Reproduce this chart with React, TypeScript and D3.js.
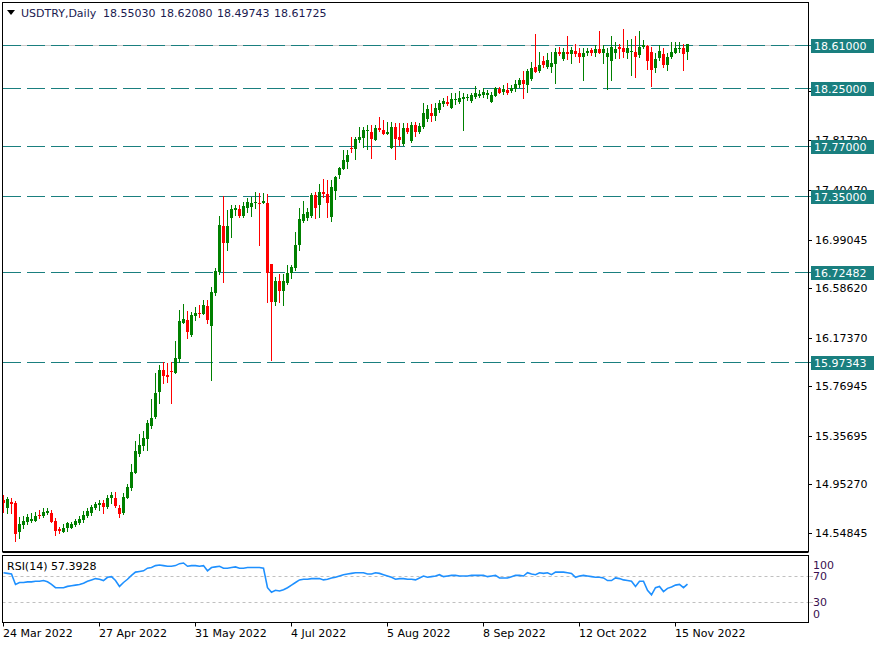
import React from "react";
import * as d3 from "d3";

const W = 880;
const H = 646;

const symbolLabel = "USDTRY,Daily";
const headerValues = ["18.55030", "18.62080", "18.49743", "18.61725"];
const rsiTitle = "RSI(14) 57.3928";

const opens = [
  14.820, 14.755, 14.805, 14.797, 14.555, 14.614, 14.639, 14.647, 14.647, 14.697,
  14.689, 14.714, 14.714, 14.647, 14.580, 14.555, 14.589, 14.589, 14.614, 14.630,
  14.655, 14.689, 14.714, 14.755, 14.780, 14.797, 14.764, 14.839, 14.839, 14.755,
  14.714, 14.839, 14.922, 15.045, 15.203, 15.270, 15.328, 15.436, 15.511, 15.720,
  15.903, 15.861, 15.895, 15.878, 15.995, 16.294, 16.319, 16.194, 16.353, 16.378,
  16.370, 16.436, 16.269, 16.544, 16.719, 17.102, 16.961, 17.169, 17.236, 17.244,
  17.186, 17.252, 17.261, 17.294, 17.294, 17.294, 17.294, 16.786, 16.469, 16.644,
  16.561, 16.628, 16.711, 16.753, 16.944, 17.144, 17.169, 17.186, 17.361, 17.277,
  17.386, 17.369, 17.177, 17.394, 17.527, 17.577, 17.636, 17.752, 17.744, 17.819,
  17.836, 17.894, 17.886, 17.819, 17.919, 17.902, 17.869, 17.752, 17.927, 17.844,
  17.786, 17.919, 17.811, 17.944, 17.886, 17.927, 17.994, 18.044, 18.019, 18.069,
  18.119, 18.136, 18.085, 18.152, 18.136, 18.160, 18.169, 18.144, 18.177, 18.185,
  18.194, 18.194, 18.136, 18.185, 18.244, 18.219, 18.235, 18.227, 18.244, 18.277,
  18.319, 18.277, 18.327, 18.427, 18.394, 18.477, 18.427, 18.427, 18.452, 18.552,
  18.494, 18.552, 18.535, 18.560, 18.544, 18.510, 18.544, 18.569, 18.544, 18.577,
  18.544, 18.510, 18.477, 18.544, 18.594, 18.585, 18.544, 18.552, 18.552, 18.527,
  18.594, 18.602, 18.552, 18.419, 18.502, 18.535, 18.444, 18.510, 18.544, 18.577,
  18.585, 18.5503,
];

const highs = [
  14.862, 14.847, 14.839, 14.814, 14.680, 14.689, 14.705, 14.714, 14.722, 14.739,
  14.755, 14.755, 14.739, 14.672, 14.597, 14.622, 14.639, 14.639, 14.664, 14.689,
  14.730, 14.755, 14.780, 14.805, 14.822, 14.822, 14.862, 14.889, 14.889, 14.780,
  14.880, 14.955, 15.120, 15.311, 15.370, 15.395, 15.486, 15.661, 15.878, 15.945,
  15.970, 15.961, 15.970, 16.144, 16.403, 16.453, 16.394, 16.386, 16.428, 16.444,
  16.486, 16.486, 16.594, 16.753, 17.186, 17.352, 17.236, 17.277, 17.277, 17.277,
  17.302, 17.336, 17.344, 17.386, 17.377, 17.377, 17.369, 16.786, 16.678, 16.703,
  16.703, 16.778, 16.778, 17.052, 17.252, 17.311, 17.252, 17.377, 17.386, 17.452,
  17.494, 17.486, 17.486, 17.519, 17.594, 17.736, 17.736, 17.844, 17.844, 17.927,
  17.927, 17.944, 17.944, 17.944, 18.010, 17.986, 17.969, 17.969, 17.961, 17.961,
  17.961, 17.961, 17.969, 17.969, 17.961, 18.127, 18.110, 18.119, 18.127, 18.152,
  18.169, 18.186, 18.210, 18.210, 18.227, 18.210, 18.202, 18.210, 18.269, 18.235,
  18.252, 18.235, 18.219, 18.260, 18.260, 18.277, 18.294, 18.277, 18.319, 18.335,
  18.394, 18.410, 18.469, 18.702, 18.552, 18.519, 18.544, 18.552, 18.585, 18.594,
  18.585, 18.685, 18.594, 18.619, 18.585, 18.585, 18.585, 18.585, 18.610, 18.727,
  18.610, 18.585, 18.685, 18.635, 18.619, 18.744, 18.652, 18.660, 18.685, 18.727,
  18.652, 18.610, 18.594, 18.544, 18.610, 18.585, 18.544, 18.635, 18.635, 18.635,
  18.619, 18.6208,
];

const lows = [
  14.720, 14.714, 14.714, 14.480, 14.505, 14.589, 14.622, 14.639, 14.647, 14.672,
  14.680, 14.705, 14.639, 14.530, 14.547, 14.555, 14.564, 14.589, 14.605, 14.622,
  14.639, 14.680, 14.697, 14.747, 14.739, 14.714, 14.755, 14.797, 14.764, 14.680,
  14.705, 14.839, 14.905, 15.045, 15.187, 15.237, 15.237, 15.420, 15.503, 15.628,
  15.795, 15.803, 15.628, 15.878, 15.970, 16.294, 16.170, 16.186, 16.319, 16.344,
  16.370, 16.294, 15.820, 16.528, 16.703, 16.636, 16.903, 17.011, 17.194, 17.177,
  17.177, 17.219, 17.186, 17.252, 16.944, 17.294, 16.469, 15.986, 16.444, 16.469,
  16.444, 16.619, 16.669, 16.736, 16.903, 17.136, 17.153, 17.177, 17.169, 17.177,
  17.344, 17.177, 17.144, 17.327, 17.502, 17.577, 17.586, 17.719, 17.661, 17.802,
  17.761, 17.744, 17.669, 17.819, 17.894, 17.869, 17.869, 17.752, 17.661, 17.777,
  17.777, 17.877, 17.802, 17.852, 17.877, 17.919, 17.977, 17.977, 17.986, 18.052,
  18.102, 18.110, 18.085, 18.119, 18.127, 17.902, 18.152, 18.136, 18.169, 18.177,
  18.177, 18.169, 18.136, 18.185, 18.210, 18.202, 18.202, 18.219, 18.227, 18.260,
  18.169, 18.219, 18.319, 18.385, 18.385, 18.427, 18.419, 18.385, 18.294, 18.527,
  18.485, 18.494, 18.460, 18.519, 18.469, 18.319, 18.527, 18.527, 18.519, 18.544,
  18.460, 18.244, 18.319, 18.502, 18.502, 18.510, 18.502, 18.360, 18.344, 18.510,
  18.585, 18.410, 18.269, 18.385, 18.485, 18.427, 18.402, 18.502, 18.544, 18.552,
  18.402, 18.49743,
];

const closes = [
  14.795, 14.830, 14.789, 14.539, 14.622, 14.647, 14.680, 14.664, 14.689, 14.689,
  14.722, 14.730, 14.639, 14.564, 14.564, 14.589, 14.630, 14.622, 14.647, 14.664,
  14.697, 14.730, 14.764, 14.789, 14.797, 14.764, 14.839, 14.864, 14.772, 14.705,
  14.847, 14.930, 15.053, 15.228, 15.278, 15.336, 15.461, 15.503, 15.711, 15.903,
  15.853, 15.845, 15.886, 16.003, 16.311, 16.328, 16.219, 16.361, 16.378, 16.370,
  16.444, 16.319, 16.553, 16.728, 17.111, 16.961, 17.102, 17.244, 17.252, 17.186,
  17.269, 17.302, 17.294, 17.302, 17.286, 17.311, 16.711, 16.469, 16.644, 16.561,
  16.644, 16.711, 16.761, 16.944, 17.161, 17.202, 17.219, 17.361, 17.252, 17.386,
  17.369, 17.294, 17.427, 17.511, 17.586, 17.652, 17.694, 17.744, 17.827, 17.844,
  17.902, 17.902, 17.827, 17.919, 17.902, 17.869, 17.886, 17.927, 17.827, 17.819,
  17.919, 17.886, 17.944, 17.886, 17.936, 18.044, 18.077, 18.019, 18.085, 18.127,
  18.144, 18.119, 18.160, 18.160, 18.169, 18.177, 18.177, 18.194, 18.210, 18.202,
  18.219, 18.210, 18.194, 18.252, 18.210, 18.244, 18.210, 18.252, 18.285, 18.319,
  18.285, 18.394, 18.419, 18.385, 18.444, 18.444, 18.485, 18.460, 18.552, 18.535,
  18.552, 18.535, 18.569, 18.535, 18.510, 18.544, 18.560, 18.544, 18.577, 18.544,
  18.577, 18.544, 18.594, 18.577, 18.577, 18.552, 18.585, 18.560, 18.510, 18.594,
  18.610, 18.477, 18.402, 18.494, 18.560, 18.444, 18.510, 18.552, 18.585, 18.585,
  18.535, 18.61725,
];

const rsiValues = [
  75, 74, 73, 57, 60, 60, 61, 61, 62, 62,
  63, 61, 57, 52, 52, 52, 54, 55, 56, 57,
  59, 62, 64, 66, 65, 63, 68, 69, 63, 54,
  60, 65, 71, 76, 77, 78, 82, 83, 86, 87,
  86, 85, 85, 86, 89, 90, 85, 86, 86, 85,
  86, 78, 83, 84, 85, 82, 82, 83, 84, 82,
  82, 83, 83, 83, 83, 82, 52, 45, 48, 47,
  49, 52, 56, 60, 64, 65, 65, 66, 66, 66,
  64, 65, 67, 68, 70, 72, 73, 74, 75, 75,
  75, 73, 73, 75, 74, 72, 70, 68, 65, 66,
  66, 65, 65, 64, 67, 70, 68, 69, 70, 72,
  69, 70, 71, 71, 70, 70, 70, 71, 71, 71,
  71, 69, 70, 71, 67, 67, 67, 69, 71, 71,
  70, 75, 73, 72, 75, 74, 75, 72, 76, 76,
  76, 75, 74, 68, 70, 71, 70, 69, 68, 68,
  67, 63, 63, 67, 66, 64, 63, 62, 54, 62,
  62, 48, 41, 52, 54, 46, 51, 53, 56, 57,
  52, 57.3928,
];

const levelPrices = [18.61, 18.25, 17.77, 17.35, 16.72482, 15.97343];
const priceTicks = [14.54845, 14.9527, 15.35695, 15.76945, 16.1737, 16.5862, 16.99045, 17.4047, 17.8172, 18.2297];
const rsiTickValues = [100, 70, 30, 0];
const rsiLevelValues = [70, 30];
const dateTickIndex = [0, 24, 48, 72, 96, 120, 144, 168];
const dateTickLabels = [
  "24 Mar 2022", "27 Apr 2022", "31 May 2022", "4 Jul 2022",
  "5 Aug 2022", "8 Sep 2022", "12 Oct 2022", "15 Nov 2022",
];

const FONT = "'DejaVu Sans', Verdana, sans-serif";
const GREEN = "#008000";
const RED = "#ff0000";
const TEAL = "#1a7f7f";

export default function App() {
  const n = closes.length;
  const left = 2.5;
  const right = 808.5;
  const mainTop = 2.5;
  const mainBottom = 551.5;
  const rsiTop = 555.5;
  const rsiBottom = 622.5;

  const x = d3.scaleLinear().domain([0, n - 1]).range([3, 687]);
  const y = d3.scaleLinear().domain([14.54845, 18.61]).range([533, 45]);
  const yr = d3.scaleLinear().domain([0, 100]).range([621.5, 556.5]);

  const snap = (v: number) => Math.round(v) + 0.5;

  const rsiLine = d3
    .line<number>()
    .x((_, i) => x(i) + 0.5)
    .y((d) => yr(d));

  const candles = closes.map((c, i) => {
    const o = opens[i];
    const up = c >= o;
    const col = up ? GREEN : RED;
    const cx = Math.round(x(i));
    const yTop = Math.round(y(Math.max(o, c)));
    const yBot = Math.round(y(Math.min(o, c)));
    const h = Math.max(1, yBot - yTop);
    return (
      <g key={i}>
        <line
          x1={cx + 0.5}
          x2={cx + 0.5}
          y1={Math.round(y(highs[i]))}
          y2={Math.round(y(lows[i])) + 1}
          stroke={col}
          strokeWidth={1}
        />
        <rect x={cx - 1} y={yTop} width={3} height={h} fill={col} />
      </g>
    );
  });

  const lastClose = closes[n - 1];

  return (
    <svg
      width={W}
      height={H}
      style={{ position: "absolute", left: 0, top: 0, display: "block", background: "#fff" }}
      fontFamily={FONT}
    >
      <rect x={0} y={0} width={W} height={H} fill="#fff" />

      {/* bid line */}
      <line x1={left} x2={right} y1={snap(y(lastClose)) + 1} y2={snap(y(lastClose)) + 1} stroke="#c8c8c8" strokeWidth={1} />

      {/* level lines */}
      {levelPrices.map((p, i) => (
        <g key={"lvl" + i}>
          <line
            x1={3}
            x2={right}
            y1={snap(y(p))}
            y2={snap(y(p))}
            stroke={TEAL}
            strokeWidth={1}
            strokeDasharray="18,6"
          />
          <line x1={798} x2={812} y1={snap(y(p))} y2={snap(y(p))} stroke={TEAL} strokeWidth={1} />
        </g>
      ))}

      {/* candles */}
      <g>{candles}</g>

      {/* main frame */}
      <rect x={left} y={mainTop} width={right - left} height={mainBottom - mainTop} fill="none" stroke="#000" strokeWidth={1} />
      <line x1={left} x2={right} y1={mainBottom + 1} y2={mainBottom + 1} stroke="#000" strokeWidth={1} />

      {/* header */}
      <path d="M7,10 L15,10 L11,15 Z" fill="#000" />
      <text x={21} y={17} fontSize={11} fill="#1a1a50">
        {symbolLabel}
      </text>
      {headerValues.map((v, i) => (
        <text key={"hv" + i} x={103 + i * 57} y={17} fontSize={11} fill="#1a1a50">
          {v}
        </text>
      ))}

      {/* price axis ticks */}
      {priceTicks.map((p, i) => (
        <g key={"pt" + i}>
          <line x1={right} x2={812} y1={snap(y(p))} y2={snap(y(p))} stroke="#000" />
          <text x={815} y={y(p) + 4} fontSize={11} fill="#000">
            {p.toFixed(5)}
          </text>
        </g>
      ))}

      {/* level labels */}
      {levelPrices.map((p, i) => (
        <g key={"ll" + i}>
          <rect x={811} y={Math.round(y(p)) - 6} width={63} height={14} fill={TEAL} />
          <text x={814} y={Math.round(y(p)) + 5} fontSize={11} fill="#fff">
            {p.toFixed(5)}
          </text>
        </g>
      ))}

      {/* RSI panel */}
      {rsiLevelValues.map((v, i) => (
        <g key={"rl" + i}>
          <line x1={left} x2={right} y1={snap(yr(v))} y2={snap(yr(v))} stroke="#c0c0c0" strokeDasharray="3,3" />
          <line x1={right} x2={813} y1={snap(yr(v))} y2={snap(yr(v))} stroke="#c0c0c0" />
        </g>
      ))}
      <path d={rsiLine(rsiValues) || ""} fill="none" stroke="#1e90ff" strokeWidth={1.6} />
      <rect x={left} y={rsiTop} width={right - left} height={rsiBottom - rsiTop} fill="none" stroke="#000" strokeWidth={1} />
      <text x={7} y={570} fontSize={11} fill="#000">
        {rsiTitle}
      </text>
      {rsiTickValues.map((v, i) => (
        <text
          key={"rt" + i}
          x={813}
          y={Math.min(Math.max(yr(v), 565), 614) + 4}
          fontSize={11}
          fill="#3a1050"
        >
          {v}
        </text>
      ))}

      {/* date axis */}
      {dateTickIndex.map((idx, i) => (
        <g key={"dt" + i}>
          <line x1={snap(x(idx))} x2={snap(x(idx))} y1={rsiBottom} y2={rsiBottom + 4} stroke="#000" />
          <text x={Math.round(x(idx))} y={637} fontSize={11} fill="#000">
            {dateTickLabels[i]}
          </text>
        </g>
      ))}
    </svg>
  );
}
